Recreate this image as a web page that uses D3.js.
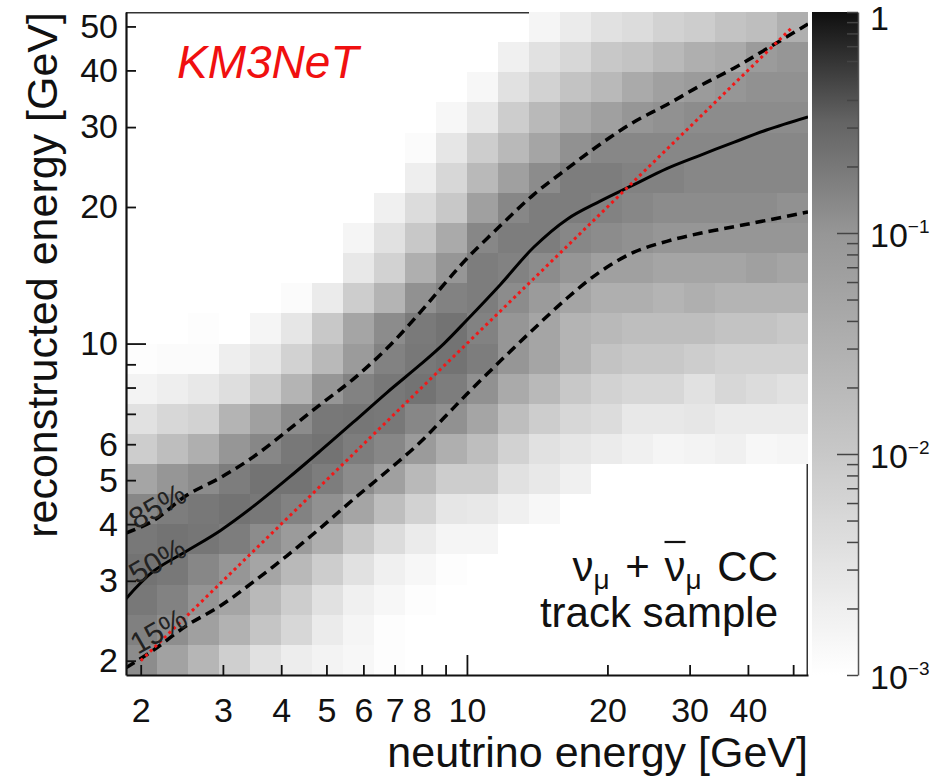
<!DOCTYPE html>
<html>

<head>
    <meta charset="utf-8">
    <title>Energy response - track sample</title>
    <script src="https://d3js.org/d3.v7.min.js"></script>
    <style>
        body { margin: 0; background: #fff; }
        svg text { font-family: "Liberation Sans", Arial, Helvetica, sans-serif; }
    </style>
</head>

<body>
    <svg id="chart"></svg>

    <script>
        // Fraction of events per bin, one array per reconstructed-energy bin
        // (lowest bin first), one entry per neutrino-energy bin. 0 = empty bin.
        var row00 = [0.126, 0.058, 0.023, 0.0075, 0.0036, 0.0022, 0.0017, 0.0014, 0.0011, 0, 0, 0, 0, 0, 0, 0, 0, 0, 0, 0, 0, 0];
        var row01 = [0.166, 0.120, 0.063, 0.028, 0.0115, 0.0054, 0.0023, 0.0015, 0.0011, 0, 0, 0, 0, 0, 0, 0, 0, 0, 0, 0, 0, 0];
        var row02 = [0.20, 0.158, 0.105, 0.050, 0.020, 0.0081, 0.0036, 0.0019, 0.0014, 0.0011, 0, 0, 0, 0, 0, 0, 0, 0, 0, 0, 0, 0];
        var row03 = [0.224, 0.20, 0.141, 0.10, 0.050, 0.020, 0.0081, 0.0036, 0.0019, 0.0014, 0.0011, 0, 0, 0, 0, 0, 0, 0, 0, 0, 0, 0];
        var row04 = [0.20, 0.224, 0.209, 0.178, 0.126, 0.079, 0.032, 0.010, 0.0044, 0.0023, 0.0015, 0.0015, 0, 0, 0, 0, 0, 0, 0, 0, 0, 0];
        var row05 = [0.141, 0.178, 0.20, 0.224, 0.20, 0.158, 0.112, 0.050, 0.016, 0.0066, 0.0029, 0.0027, 0.0019, 0.0014, 0, 0, 0, 0, 0, 0, 0, 0];
        var row06 = [0.050, 0.10, 0.126, 0.178, 0.224, 0.224, 0.178, 0.126, 0.063, 0.020, 0.0081, 0.0081, 0.0036, 0.0027, 0.0019, 0, 0, 0, 0, 0, 0, 0];
        var row07 = [0.0081, 0.016, 0.032, 0.10, 0.141, 0.20, 0.224, 0.178, 0.141, 0.079, 0.032, 0.016, 0.0066, 0.0036, 0.0029, 0.0023, 0.0019, 0.0015, 0.0017, 0.0019, 0.0014, 0.0015];
        var row08 = [0.0036, 0.0054, 0.0066, 0.025, 0.063, 0.126, 0.20, 0.209, 0.20, 0.141, 0.112, 0.050, 0.016, 0.0081, 0.0054, 0.0044, 0.0027, 0.0027, 0.0029, 0.0023, 0.0023, 0.0023];
        var row09 = [0.0017, 0.0021, 0.0027, 0.0040, 0.0081, 0.025, 0.10, 0.158, 0.20, 0.224, 0.178, 0.112, 0.040, 0.020, 0.010, 0.0066, 0.0054, 0.0054, 0.0036, 0.0054, 0.0044, 0.0036];
        var row10 = [0.0011, 0.0012, 0.0012, 0.0021, 0.0029, 0.0066, 0.020, 0.079, 0.158, 0.20, 0.224, 0.178, 0.10, 0.050, 0.025, 0.0126, 0.010, 0.010, 0.0081, 0.0066, 0.0066, 0.0066];
        var row11 = [0, 0, 0.0011, 0, 0.0015, 0.0029, 0.010, 0.050, 0.126, 0.191, 0.224, 0.158, 0.10, 0.050, 0.025, 0.020, 0.016, 0.016, 0.016, 0.0126, 0.0126, 0.010];
        var row12 = [0, 0, 0, 0, 0, 0.0012, 0.0023, 0.0081, 0.025, 0.112, 0.158, 0.178, 0.126, 0.079, 0.050, 0.032, 0.032, 0.025, 0.032, 0.025, 0.025, 0.025];
        var row13 = [0, 0, 0, 0, 0, 0, 0, 0.0027, 0.0066, 0.032, 0.10, 0.178, 0.158, 0.126, 0.10, 0.063, 0.063, 0.050, 0.050, 0.050, 0.063, 0.050];
        var row14 = [0, 0, 0, 0, 0, 0, 0, 0.0015, 0.0036, 0.010, 0.040, 0.141, 0.178, 0.178, 0.141, 0.126, 0.112, 0.10, 0.10, 0.10, 0.10, 0.10];
        var row15 = [0, 0, 0, 0, 0, 0, 0, 0, 0.0019, 0.0044, 0.010, 0.063, 0.141, 0.178, 0.178, 0.158, 0.141, 0.126, 0.126, 0.126, 0.126, 0.112];
        var row16 = [0, 0, 0, 0, 0, 0, 0, 0, 0, 0.0021, 0.0054, 0.020, 0.063, 0.126, 0.178, 0.178, 0.158, 0.158, 0.141, 0.141, 0.141, 0.141];
        var row17 = [0, 0, 0, 0, 0, 0, 0, 0, 0, 0.0012, 0.0029, 0.0081, 0.020, 0.050, 0.112, 0.141, 0.141, 0.141, 0.141, 0.141, 0.141, 0.141];
        var row18 = [0, 0, 0, 0, 0, 0, 0, 0, 0, 0, 0.0014, 0.0027, 0.0081, 0.020, 0.040, 0.063, 0.10, 0.112, 0.126, 0.126, 0.126, 0.126];
        var row19 = [0, 0, 0, 0, 0, 0, 0, 0, 0, 0, 0, 0.0014, 0.0036, 0.0066, 0.0126, 0.020, 0.040, 0.063, 0.079, 0.10, 0.112, 0.112];
        var row20 = [0, 0, 0, 0, 0, 0, 0, 0, 0, 0, 0, 0, 0.0019, 0.0036, 0.0054, 0.010, 0.0126, 0.020, 0.032, 0.040, 0.079, 0.10];
        var row21 = [0, 0, 0, 0, 0, 0, 0, 0, 0, 0, 0, 0, 0, 0.0015, 0.0023, 0.0036, 0.0044, 0.0066, 0.0081, 0.0126, 0.016, 0.032];
        var cells = [row00, row01, row02, row03, row04, row05, row06, row07, row08, row09, row10,
            row11, row12, row13, row14, row15, row16, row17, row18, row19, row20, row21];

        // histogram range, same on both axes [GeV]
        var energyRange = [1.86, 53.8];
        var zRange = [0.001, 1];

        // quantile curves of the reconstructed energy vs neutrino energy [GeV]
        var curveEnergy = [1.86, 2.13, 2.51, 2.96, 3.48, 4.12, 4.85, 5.70, 6.74, 7.93, 8.93, 10.0, 11.8, 13.9, 16.4, 19.3, 22.8, 26.8, 31.6, 37.4, 44.0, 53.8];
        var quantile85 = [3.82, 4.07, 4.63, 5.06, 5.62, 6.42, 7.34, 8.34, 9.76, 11.7, 13.5, 15.4, 18.2, 21.3, 24.3, 27.5, 30.8, 33.6, 37.0, 40.5, 44.7, 50.6];
        var median = [2.74, 3.15, 3.49, 3.87, 4.37, 5.03, 5.80, 6.70, 7.80, 8.97, 10.0, 11.27, 13.5, 16.3, 18.8, 20.6, 22.4, 24.3, 26.0, 27.8, 29.6, 31.6];
        var quantile15 = [1.93, 2.11, 2.39, 2.64, 2.98, 3.41, 3.92, 4.53, 5.23, 6.05, 6.86, 7.74, 9.16, 10.77, 12.6, 14.4, 15.9, 16.8, 17.5, 18.1, 18.7, 19.5];
        var diagonal = [2, 50];

        // curve labels and where they sit (neutrino energy, reconstructed energy)
        var curveLabels = ["85%", "50%", "15%"];
        var curveLabelX = [1.96, 1.96, 1.97];
        var curveLabelY = [3.88, 2.94, 2.06];

        // tick labels shown on the axes
        var xLabelled = [2, 3, 4, 5, 6, 7, 8, 10, 20, 30, 40];
        var yLabelled = [2, 3, 4, 5, 6, 10, 20, 30, 40, 50];

        // grey palette (log10 of content -> grey level)
        var greyStops = [-3, -2.5, -2, -1.5, -1, -0.5, 0];
        var greyLevels = [255, 228, 200, 175, 150, 100, 15];

        var plot = { left: 126, right: 808, top: 12, bottom: 675 };
        var bar = { left: 812, right: 858 };

        var svg = d3.select("#chart")
            .attr("width", 949)
            .attr("height", 779);

        var x = d3.scaleLog().domain(energyRange).range([plot.left, plot.right]);
        var y = d3.scaleLog().domain(energyRange).range([plot.bottom, plot.top]);
        var z = d3.scaleLog().domain(zRange).range([plot.bottom, plot.top]);

        var grey = d3.scaleLinear().domain(greyStops).range(greyLevels).clamp(true);
        function shade(v) {
            var g = Math.round(grey(Math.log10(v)));
            return d3.rgb(g, g, g).toString();
        }

        // frame (top and right side end up under the cells)
        svg.append("path")
            .attr("d", "M" + plot.left + "," + (plot.top + 0.75) + "H" + (plot.right - 0.75) + "V" + plot.bottom)
            .attr("fill", "none")
            .attr("stroke", "#333")
            .attr("stroke-width", 1.5);

        // histogram cells
        var nBins = cells[0].length;
        var edges = d3.range(nBins + 1).map(function(i) {
            return energyRange[0] * Math.pow(energyRange[1] / energyRange[0], i / nBins);
        });
        var cellData = [];
        cells.forEach(function(row, j) {
            row.forEach(function(v, i) {
                if (v > 0) cellData.push({ i: i, j: j, v: v });
            });
        });

        svg.append("g")
            .selectAll("rect")
            .data(cellData)
            .enter().append("rect")
            .attr("x", d => x(edges[d.i]))
            .attr("y", d => y(edges[d.j + 1]))
            .attr("width", d => x(edges[d.i + 1]) - x(edges[d.i]))
            .attr("height", d => y(edges[d.j]) - y(edges[d.j + 1]))
            .attr("fill", d => shade(d.v))
            .attr("shape-rendering", "crispEdges");

        // curves
        svg.append("clipPath").attr("id", "plotclip")
            .append("rect")
            .attr("x", plot.left).attr("y", plot.top)
            .attr("width", plot.right - plot.left).attr("height", plot.bottom - plot.top);

        var curves = svg.append("g").attr("clip-path", "url(#plotclip)");

        function drawCurve(ys, dash, width, colour) {
            var line = d3.line()
                .x((d, i) => x(curveEnergy[i]))
                .y(d => y(d))
                .curve(d3.curveCatmullRom.alpha(0.5));
            curves.append("path")
                .attr("d", line(ys))
                .attr("fill", "none")
                .attr("stroke", colour)
                .attr("stroke-width", width)
                .attr("stroke-dasharray", dash);
        }

        drawCurve(quantile85, "10,6", 3.5, "#000");
        drawCurve(quantile15, "10,6", 3.5, "#000");
        drawCurve(median, null, 3, "#000");

        curves.append("line")
            .attr("x1", x(diagonal[0])).attr("y1", y(diagonal[0]))
            .attr("x2", x(diagonal[1])).attr("y2", y(diagonal[1]))
            .attr("stroke", "#f01818")
            .attr("stroke-width", 3)
            .attr("stroke-dasharray", "3,3.5");

        // curve labels
        svg.append("g")
            .selectAll("text")
            .data(curveLabels)
            .enter().append("text")
            .attr("transform", (d, i) => "translate(" + x(curveLabelX[i]) + "," + y(curveLabelY[i]) + ") rotate(-30)")
            .attr("font-size", 30)
            .attr("fill", "#222")
            .text(d => d);

        // x axis
        var xAxis = svg.append("g")
            .attr("transform", "translate(0," + plot.bottom + ")")
            .call(d3.axisBottom(x)
                .tickValues(x.ticks())
                .tickSize(-10)
                .tickSizeOuter(0)
                .tickPadding(23)
                .tickFormat(d => xLabelled.includes(d) ? d : ""));

        // y axis
        var yAxis = svg.append("g")
            .attr("transform", "translate(" + plot.left + ",0)")
            .call(d3.axisLeft(y)
                .tickValues(y.ticks())
                .tickSize(-10)
                .tickSizeOuter(0)
                .tickPadding(8)
                .tickFormat(d => yLabelled.includes(d) ? d : ""));

        xAxis.selectAll(".tick line").attr("y2", d => d === 10 ? -20 : -10);
        yAxis.selectAll(".tick line").attr("x2", d => d === 10 ? 20 : 10);

        [xAxis, yAxis].forEach(function(ax) {
            ax.attr("font-family", null).attr("font-size", 34);
            ax.select(".domain").attr("stroke", "#111").attr("stroke-width", 2.2);
            ax.selectAll(".tick line").attr("stroke", "#111").attr("stroke-width", 1.8);
            ax.selectAll(".tick text").attr("fill", "#111");
        });

        // colour bar
        var grad = svg.append("defs").append("linearGradient")
            .attr("id", "zgrad")
            .attr("x1", 0).attr("y1", 1).attr("x2", 0).attr("y2", 0);
        d3.range(0, 31).forEach(function(k) {
            var lv = -3 + k / 10;
            grad.append("stop")
                .attr("offset", (k / 30 * 100) + "%")
                .attr("stop-color", shade(Math.pow(10, lv)));
        });

        svg.append("rect")
            .attr("x", bar.left).attr("y", z(zRange[1]))
            .attr("width", bar.right - bar.left)
            .attr("height", z(zRange[0]) - z(zRange[1]))
            .attr("fill", "url(#zgrad)");

        var zAxis = svg.append("g")
            .attr("transform", "translate(" + bar.right + ",0)")
            .call(d3.axisRight(z)
                .tickValues(z.ticks())
                .tickSize(-11)
                .tickSizeOuter(0)
                .tickPadding(12)
                .tickFormat(""));

        zAxis.attr("font-family", null).attr("font-size", 34);
        zAxis.select(".domain").attr("stroke", "#555").attr("stroke-width", 1.5);
        zAxis.selectAll(".tick line")
            .attr("stroke", "#444")
            .attr("stroke-width", 1.5)
            .attr("x2", d => (d === 0.1 || d === 0.01) ? -21 : -11);

        zAxis.selectAll(".tick text")
            .attr("fill", "#111")
            .attr("dy", "0.4em")
            .each(function(d) {
                var e = Math.round(Math.log10(d));
                if (Math.abs(Math.log10(d) - e) > 1e-6) return;
                var t = d3.select(this);
                if (e === 0) {
                    t.attr("dy", "0.5em").text("1");
                } else {
                    t.append("tspan").text("10");
                    t.append("tspan")
                        .attr("font-size", 19)
                        .attr("dy", -14)
                        .text("\u2212" + (-e));
                }
            });

        // axis titles
        svg.append("text")
            .attr("x", plot.right)
            .attr("y", 767)
            .attr("text-anchor", "end")
            .attr("font-size", 43)
            .attr("fill", "#111")
            .text("neutrino energy [GeV]");

        svg.append("text")
            .attr("transform", "translate(57," + plot.top + ") rotate(-90)")
            .attr("text-anchor", "end")
            .attr("font-size", 43)
            .attr("fill", "#111")
            .text("reconstructed energy [GeV]");

        // experiment label
        svg.append("text")
            .attr("x", 177)
            .attr("y", 78)
            .attr("font-size", 46)
            .attr("font-style", "italic")
            .attr("fill", "#f01010")
            .text("KM3NeT");

        // sample label
        var line1 = svg.append("text")
            .attr("x", 778)
            .attr("y", 581)
            .attr("text-anchor", "end")
            .attr("font-size", 42)
            .attr("fill", "#111");
        line1.append("tspan").text("\u03bd");
        line1.append("tspan").attr("font-size", 28).attr("dy", 8).text("\u03bc");
        line1.append("tspan").attr("dy", -8).attr("dx", 4).text(" + ");
        line1.append("tspan").attr("dx", 3).text("\u03bd");
        line1.append("tspan").attr("font-size", 28).attr("dy", 8).text("\u03bc");
        line1.append("tspan").attr("dy", -8).attr("dx", 4).text(" CC");

        // bar over the anti-neutrino
        var nuBox = line1.node().getExtentOfChar(5);
        svg.append("line")
            .attr("x1", nuBox.x).attr("x2", nuBox.x + nuBox.width)
            .attr("y1", 542).attr("y2", 542)
            .attr("stroke", "#111")
            .attr("stroke-width", 2.2);

        svg.append("text")
            .attr("x", 778)
            .attr("y", 627)
            .attr("text-anchor", "end")
            .attr("font-size", 42)
            .attr("fill", "#111")
            .text("track sample");
    </script>
</body>

</html>
